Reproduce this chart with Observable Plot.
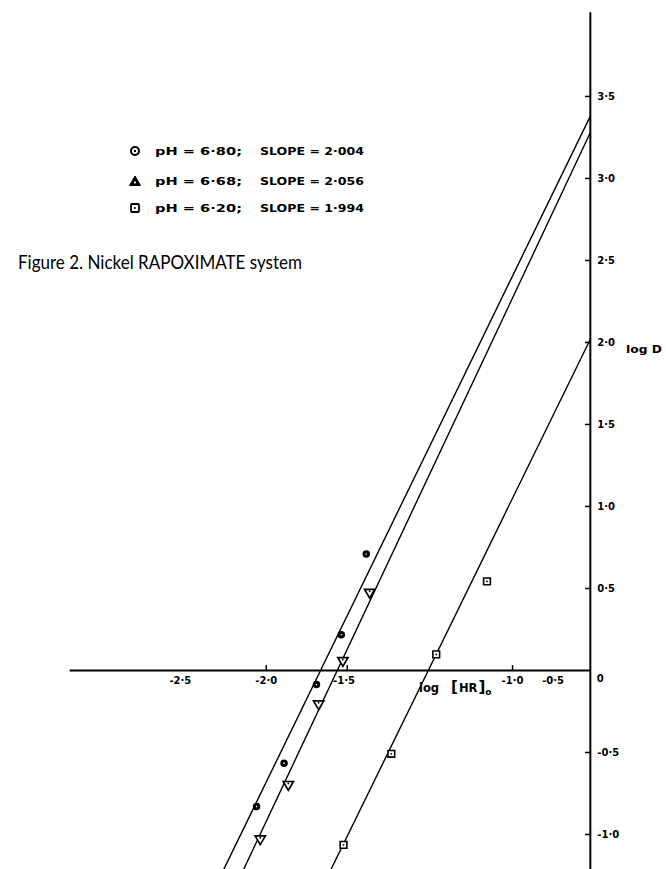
<!DOCTYPE html>
<html><head><meta charset="utf-8">
<script src="https://cdn.jsdelivr.net/npm/d3@7"></script>
<script src="https://cdn.jsdelivr.net/npm/@observablehq/plot@0.6"></script>
<style>
html,body{margin:0;padding:0;background:#fff;}
#wrap{position:relative;width:666px;height:869px;overflow:hidden;}
#overlay{position:absolute;left:0;top:0;pointer-events:none;}
</style></head><body>
<div id="wrap"></div>
<script>
// ---- data ----
const circleX = [-1.383, -1.537, -1.690, -1.890, -2.060];
const circleY = [0.710, 0.218, -0.085, -0.565, -0.830];
const triX = [-1.362, -1.527, -1.677, -1.864, -2.037];
const triY = [0.477, 0.061, -0.203, -0.695, -1.026];
const squareX = [-0.638, -0.951, -1.228, -1.523];
const squareY = [0.543, 0.098, -0.508, -1.063];
const seriesPH = ["6·80", "6·68", "6·20"];
const seriesSlope = ["2·004", "2·056", "1·994"];
const lineIntercept = [3.38, 3.28, 2.02];
const lineSlope = [2.03, 2.10, 2.02];
const yTickValues = [3.5, 3.0, 2.5, 2.0, 1.5, 1.0, 0.5, -0.5, -1.0];
const yTickLabels = ["3·5", "3·0", "2·5", "2·0", "1·5", "1·0", "0·5", "-0·5", "-1·0"];
const xTickValues = [-2.0, -1.5, -0.48];
const xLabelValues = [-2.53, -2.0, -1.52, -0.48, -0.23];
const xTickLabels = ["-2·5", "-2·0", "-1·5", "-1·0", "-0·5"];
const xDomain = [-3.64, 0.47];
const yDomain = [-1.2134, 4.085];
const xAxisStart = -3.21;
const yAxisEnd = 4.01;

const yMin = yDomain[0];
const fitLines = lineIntercept.flatMap((b, i) => {
  const m = lineSlope[i];
  const x0 = (yMin - b) / m;
  return [{s: i, x: x0, y: yMin}, {s: i, x: 0, y: b}];
});
const circles = circleX.map((x, i) => ({x, y: circleY[i]}));
const tris = triX.map((x, i) => ({x, y: triY[i]}));
const squares = squareX.map((x, i) => ({x, y: squareY[i]}));
const xl = xLabelValues.map((v, i) => ({v, t: xTickLabels[i]}));
const yt = yTickValues.map((v, i) => ({v, t: yTickLabels[i]}));

const font = "DejaVu Sans, sans-serif";
const plot = Plot.plot({
  width: 666, height: 869,
  margin: 0,
  x: {domain: xDomain, axis: null},
  y: {domain: yDomain, axis: null},
  style: {fontFamily: font, background: "white"},
  marks: [
    Plot.ruleY([0], {x1: xAxisStart, x2: 0, stroke: "black", strokeWidth: 2}),
    Plot.ruleX([0], {y1: yMin, y2: yAxisEnd, stroke: "black", strokeWidth: 2}),
    Plot.ruleX(xTickValues, {x: d => d, y1: 0, y2: 0.03, stroke: "black", strokeWidth: 1.5}),
    Plot.ruleY(yt, {y: "v", x1: -0.03, x2: 0, stroke: "black", strokeWidth: 1.5}),
    Plot.text(xl, {x: "v", y: 0, dy: 10, text: "t", fontSize: 10, fontWeight: "bold", fill: "black"}),
    Plot.text(yt, {x: 0, y: "v", dx: 7, text: "t", textAnchor: "start", fontSize: 10, fontWeight: "bold", fill: "black"}),
    Plot.text(["0"], {x: 0, y: 0, dx: 10, dy: 8, text: d => d, fontSize: 10, fontWeight: "bold", fill: "black"}),
    Plot.line(fitLines, {x: "x", y: "y", z: "s", stroke: "black", strokeWidth: 1.4, clip: true}),
    Plot.dot(circles, {x: "x", y: "y", r: 3, fill: "black", stroke: "black"}),
    Plot.dot(circles, {x: "x", y: "y", r: 0.8, fill: "white"}),
    Plot.dot(tris, {x: "x", y: "y", symbol: "triangle", r: 3.8, rotate: 180, fill: "white", stroke: "black", strokeWidth: 1.7}),
    Plot.dot(tris, {x: "x", y: "y", r: 0.9, dy: -1, fill: "black"}),
    Plot.dot(squares, {x: "x", y: "y", symbol: "square", r: 3.8, fill: "white", stroke: "black", strokeWidth: 1.6}),
    Plot.dot(squares, {x: "x", y: "y", r: 0.9, fill: "black"})
  ]
});
const wrap = document.getElementById("wrap");
wrap.appendChild(plot);

// overlay: title, legend, axis titles
const NS = "http://www.w3.org/2000/svg";
const ov = document.createElementNS(NS, "svg");
ov.setAttribute("id", "overlay");
ov.setAttribute("width", 666);
ov.setAttribute("height", 869);
function txt(str, x, y, opts = {}) {
  const t = document.createElementNS(NS, "text");
  t.textContent = str;
  t.setAttribute("x", x); t.setAttribute("y", y);
  t.setAttribute("font-family", opts.family || font);
  t.setAttribute("font-size", opts.size || 10);
  t.setAttribute("font-weight", opts.weight || "bold");
  if (opts.len) { t.setAttribute("textLength", opts.len); t.setAttribute("lengthAdjust", "spacingAndGlyphs"); }
  if (opts.anchor) t.setAttribute("text-anchor", opts.anchor);
  ov.appendChild(t);
  return t;
}
function el(name, attrs) {
  const e = document.createElementNS(NS, name);
  for (const k in attrs) e.setAttribute(k, attrs[k]);
  ov.appendChild(e);
  return e;
}
// title
txt("Figure 2. Nickel RAPOXIMATE system", 18, 269, {family: "Lato, sans-serif", size: 20, weight: "normal", len: 284});
// legend
const rows = [151, 181, 208];
rows.forEach((cy, i) => {
  txt("pH = " + seriesPH[i] + ";", 155, cy + 4, {size: 10, len: 87});
  txt("SLOPE = " + seriesSlope[i], 260, cy + 4, {size: 10, len: 104});
});
el("circle", {cx: 135, cy: rows[0], r: 4, fill: "white", stroke: "black", "stroke-width": 2});
el("circle", {cx: 135, cy: rows[0], r: 1.2, fill: "black"});
el("path", {d: `M129.5,${rows[1]+4.5} L135,${rows[1]-5} L140.5,${rows[1]+4.5} Z`, fill: "black", stroke: "black", "stroke-width": 1});
el("circle", {cx: 135, cy: rows[1] + 1.5, r: 1.1, fill: "white"});
el("rect", {x: 131, y: rows[2] - 4, width: 8, height: 8, fill: "white", stroke: "black", "stroke-width": 1.8, rx: 1});
el("circle", {cx: 135, cy: rows[2], r: 1, fill: "black"});
// axis titles
txt("log   D", 626, 353, {size: 10.5, len: 36});
const hr = txt("", 419, 692, {size: 11.5});
hr.innerHTML = '<tspan>log </tspan><tspan font-size="15" dx="8">[</tspan><tspan dx="1">HR</tspan><tspan font-size="15" dx="1">]</tspan><tspan dy="3" font-size="9">o</tspan>';
wrap.appendChild(ov);
</script>
</body></html>
